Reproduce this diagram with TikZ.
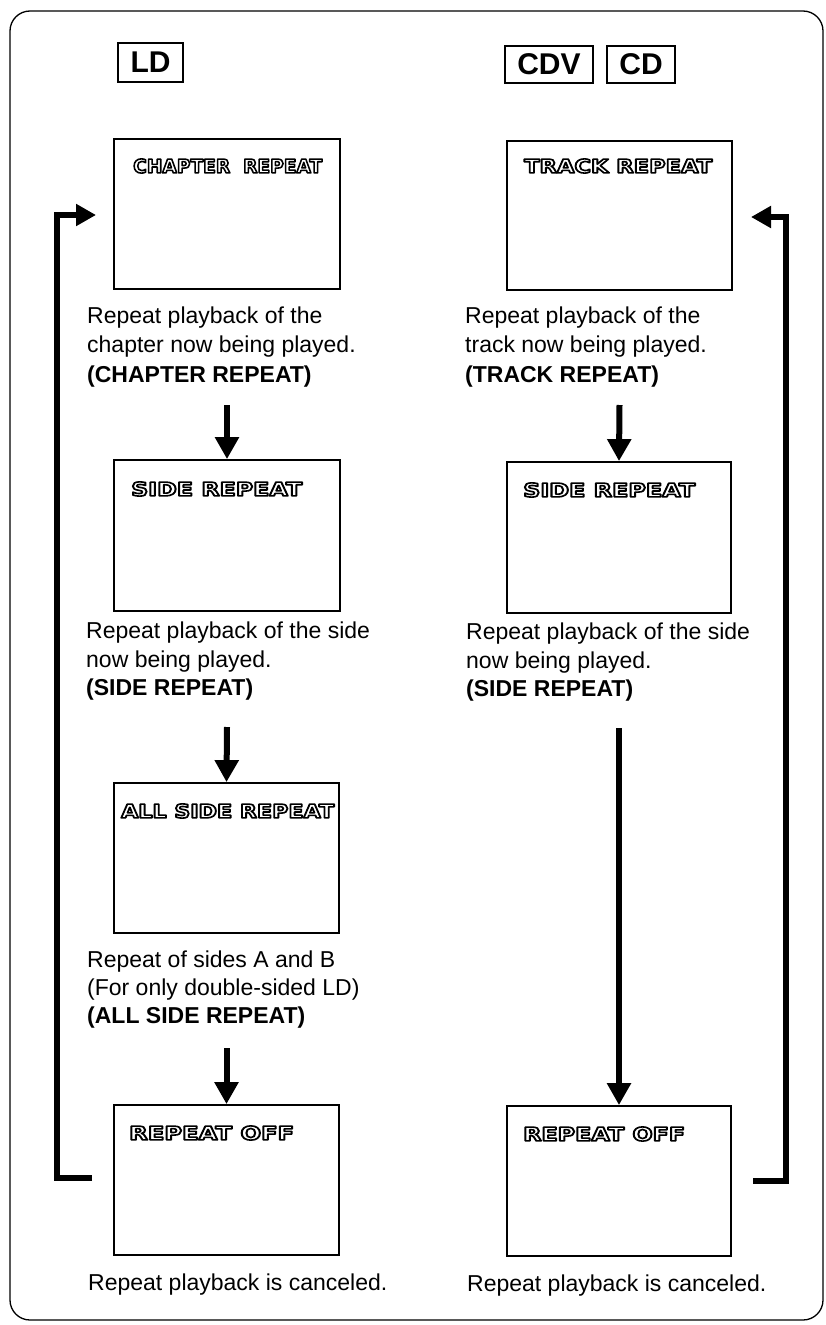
\documentclass[tikz,border=0pt]{standalone}
\usepackage{fontspec}
\usepackage{graphicx}
\setmainfont{Liberation Sans}
\newfontfamily\osdfont{DejaVu Sans}
\usetikzlibrary{arrows.meta}
\newcommand\hollowtxt[1]{\special{pdf:literal direct q 1 Tr 1.6 w 1 j 0 G}#1\special{pdf:literal direct Q}}
\newcommand\osdtxt[5]{%
  \node[osdlabel] (#1) at (#2,#3) {\resizebox{#4}{14pt}{\osdfont\bfseries\fontsize{19}{19}\selectfont\hollowtxt{#5}}};}
\begin{document}
\begin{tikzpicture}[x=1pt,y=-1pt,
  framebox/.style={line width=1.3pt, rounded corners=20pt},
  screen/.style={draw, line width=1.8pt, inner sep=0pt},
  tagbox/.style={draw, line width=1.6pt, inner sep=0pt, font=\bfseries\fontsize{30}{30}\selectfont},
  captxt/.style={anchor=base west, inner sep=0pt, font=\fontsize{23}{28}\selectfont},
  captxtb/.style={captxt, font=\bfseries\fontsize{23}{28}\selectfont},
  osdlabel/.style={anchor=west, inner sep=0pt},
  arr/.style={line width=6pt, -{Triangle[length=22pt,width=23pt]}},
  looparr/.style={line width=6pt, line join=miter, -{Triangle[length=20pt,width=21pt]}}
]
\useasboundingbox (0,0) rectangle (826,1325);
\draw[framebox] (10,11) rectangle (823,1320);

% headings
\node[tagbox, minimum width=65pt, minimum height=39pt] (LD) at (150.5,62.5) {LD};
\node[tagbox, minimum width=88pt, minimum height=37pt] (CDV) at (549,64.5) {CDV};
\node[tagbox, minimum width=68pt, minimum height=37pt] (CD) at (641,64.5) {CD};

% screens left
\node[screen, minimum width=226pt, minimum height=150pt] (L1) at (227,214) {};
\node[screen, minimum width=226pt, minimum height=151pt] (L2) at (227,535.5) {};
\node[screen, minimum width=225pt, minimum height=150pt] (L3) at (226.5,858) {};
\node[screen, minimum width=225pt, minimum height=150pt] (L4) at (226.5,1180) {};
% screens right
\node[screen, minimum width=225pt, minimum height=149pt] (R1) at (619.5,215.5) {};
\node[screen, minimum width=224pt, minimum height=151pt] (R2) at (619,537.5) {};
\node[screen, minimum width=224pt, minimum height=150pt] (R4) at (619,1181) {};

% on-screen text
\osdtxt{T1}{133}{166}{189pt}{CHAPTER~~REPEAT}
\osdtxt{T2}{131}{489}{171pt}{SIDE REPEAT}
\osdtxt{T3}{121}{811}{213pt}{ALL SIDE REPEAT}
\osdtxt{T4}{129}{1133}{165pt}{REPEAT OFF}
\osdtxt{U1}{524}{166}{188pt}{TRACK REPEAT}
\osdtxt{U2}{523}{490}{172pt}{SIDE REPEAT}
\osdtxt{U4}{523}{1134}{162pt}{REPEAT OFF}

% captions left
\node[captxt] (c11) at (87,323) {Repeat playback of the};
\node[captxt] (c12) at (87,352) {chapter now being played.};
\node[captxtb] (c13) at (87,382) {(CHAPTER REPEAT)};
\node[captxt] (c21) at (86,638) {Repeat playback of the side};
\node[captxt] (c22) at (86,667) {now being played.};
\node[captxtb] (c23) at (86,695) {(SIDE REPEAT)};
\node[captxt] (c31) at (87,967) {Repeat of sides A and B};
\node[captxt] (c32) at (87,995) {(For only double-sided LD)};
\node[captxtb] (c33) at (87,1023) {(ALL SIDE REPEAT)};
\node[captxt] (c41) at (88,1290) {Repeat playback is canceled.};
% captions right
\node[captxt] (d11) at (465,323) {Repeat playback of the};
\node[captxt] (d12) at (465,352) {track now being played.};
\node[captxtb] (d13) at (465,382) {(TRACK REPEAT)};
\node[captxt] (d21) at (466,639) {Repeat playback of the side};
\node[captxt] (d22) at (466,668) {now being played.};
\node[captxtb] (d23) at (466,696) {(SIDE REPEAT)};
\node[captxt] (d41) at (467,1291) {Repeat playback is canceled.};

% arrow starts
\coordinate (a12) at (227,405);
\coordinate (a23) at (227,727);
\coordinate (a34) at (226.5,1048);
\coordinate (b12) at (619.5,405);
\coordinate (b24) at (619,728);
\draw[arr] (a12) -- (L2.north);
\draw[arr] (a23) -- (L3.north);
\draw[arr] (a34) -- (L4.north);
\draw[arr] (b12) -- (R2.north);
\draw[arr] (b24) -- (R4.north);

% loops
\coordinate (LLs) at (92,1178);
\coordinate (LLe) at (96,215);
\draw[looparr] (LLs) -- ++(-35,0) |- (LLe);
\coordinate (RLs) at (753,1181);
\coordinate (RLe) at (751,217);
\draw[looparr] (RLs) -- ++(33,0) |- (RLe);
\end{tikzpicture}
\end{document}
